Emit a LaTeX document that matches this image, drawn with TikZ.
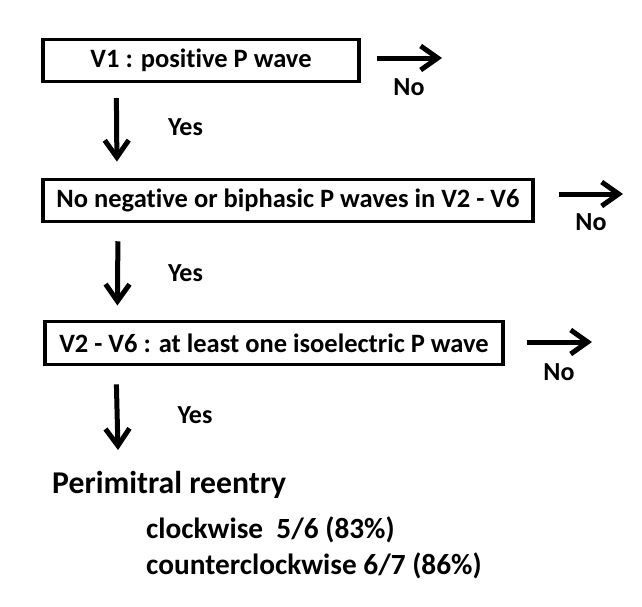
\documentclass[tikz,border=0pt]{standalone}
\usepackage{fontspec}
\setmainfont{Carlito}[Ligatures=NoCommon]
\usetikzlibrary{arrows.meta}
\tikzset{
  boxnode/.style={draw, line width=3.2pt, inner sep=0pt, font=\bfseries\fontsize{26.5}{30}\selectfont},
  lbl/.style={inner sep=0pt, font=\bfseries\fontsize{26}{30}\selectfont},
  arr/.style={line width=5pt, -{Straight Barb[length=17pt,width=24pt,line width=5pt]}},
  restxt/.style={inner sep=0pt, anchor=base west, font=\bfseries\fontsize{31.7}{36}\selectfont},
  subtxt/.style={inner sep=0pt, anchor=base west, font=\bfseries\fontsize{29.3}{34}\selectfont}
}
\begin{document}
\begin{tikzpicture}[x=1pt,y=-1pt]
\useasboundingbox (0,0) rectangle (642,606);
\fill[white] (0,0) rectangle (642,606);
\node[boxnode, minimum width=316pt, minimum height=42pt] (box1) at (201,60.5) {V1 : positive P wave};
\node[boxnode, minimum width=490pt, minimum height=42.5pt] (box2) at (288,200.4) {No negative or biphasic P waves in V2 - V6};
\node[boxnode, minimum width=458pt, minimum height=43pt] (box3) at (274,343.3) {V2 - V6 : at least one isoelectric P wave};
% right "No" arrows
\coordinate (n1) at (442,58);
\coordinate (n2) at (623,194);
\coordinate (n3) at (592,342);
\draw[arr] ([xshift=16pt,yshift=2.5pt]box1.east) -- (n1);
\draw[arr] ([xshift=24pt,yshift=6.4pt]box2.east) -- (n2);
\draw[arr] ([xshift=22pt,yshift=1.3pt]box3.east) -- (n3);
\node[lbl] (no1) at (409,87) {No};
\node[lbl] (no2) at (591,222) {No};
\node[lbl] (no3) at (559,372) {No};
% down "Yes" arrows
\coordinate (d3) at (118,450);
\draw[arr] ([xshift=75pt,yshift=-15pt]box1.south west) -- ([xshift=75.5pt,yshift=16pt]box2.north west);
\draw[arr] ([xshift=76.5pt,yshift=-18pt]box2.south west) -- ([xshift=74pt,yshift=14.7pt]box3.north west);
\draw[arr] ([xshift=73pt,yshift=-18pt]box3.south west) -- (d3);
\node[lbl] (yes1) at (185.5,127) {Yes};
\node[lbl] (yes2) at (185.5,273) {Yes};
\node[lbl] (yes3) at (195,415) {Yes};
% result
\node[restxt] (res) at (52,493) {Perimitral reentry};
\node[subtxt] (cw) at (146,538) {clockwise\ \ 5/6 (83\%)};
\node[subtxt] (ccw) at (146,574) {counterclockwise 6/7 (86\%)};
\end{tikzpicture}
\end{document}
